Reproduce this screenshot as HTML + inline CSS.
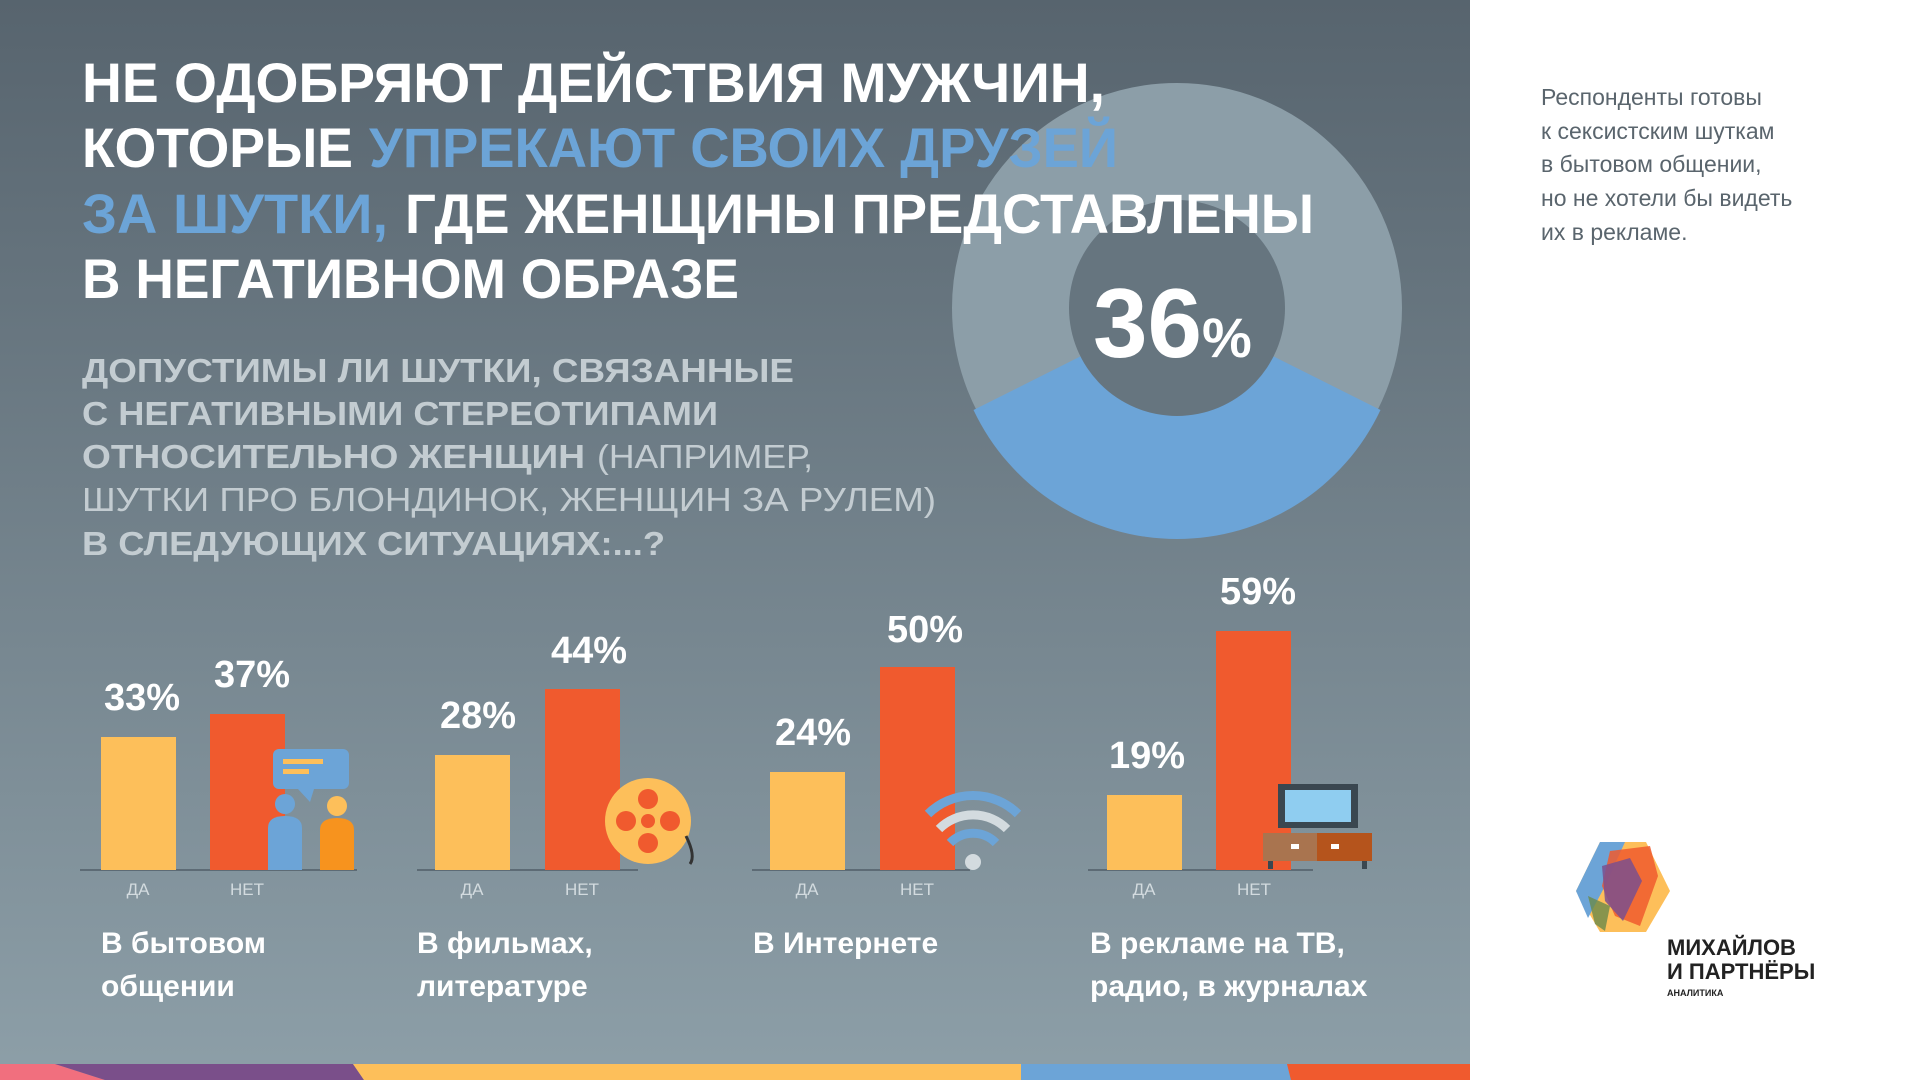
<!DOCTYPE html>
<html><head><meta charset="utf-8"><style>
html,body{margin:0;padding:0;background:#fff;}
svg{display:block;font-family:"Liberation Sans","DejaVu Sans",sans-serif;}
</style></head><body>
<svg width="1921" height="1080" viewBox="0 0 1921 1080" xmlns="http://www.w3.org/2000/svg">
<defs>
<linearGradient id="bg" x1="0" y1="0" x2="0" y2="1">
<stop offset="0" stop-color="#57646e"/><stop offset="1" stop-color="#8d9fa8"/>
</linearGradient>
</defs>
<rect x="0" y="0" width="1470" height="1080" fill="url(#bg)"/>
<rect x="1470" y="0" width="451" height="1080" fill="#fff"/>

<!-- donut -->
<circle cx="1177" cy="308" r="166" fill="none" stroke="#8c9ea8" stroke-width="118"/>
<path d="M1177 308 L973.5 410 A225 225 0 0 0 1380.5 410 Z" fill="#6ca4d7"/>
<circle cx="1177" cy="308" r="108" fill="#66757f"/>
<text x="1093" y="357" fill="#fff" font-size="98" font-weight="bold">36<tspan font-size="56">%</tspan></text>

<!-- title -->
<g font-weight="bold" font-size="56" fill="#fff">
<text x="82" y="102" textLength="1023" lengthAdjust="spacingAndGlyphs">НЕ ОДОБРЯЮТ ДЕЙСТВИЯ МУЖЧИН,</text>
<text x="82" y="167" textLength="271" lengthAdjust="spacingAndGlyphs">КОТОРЫЕ</text>
<text x="369" y="167" fill="#6ca4d7" textLength="749" lengthAdjust="spacingAndGlyphs">УПРЕКАЮТ СВОИХ ДРУЗЕЙ</text>
<text x="82" y="233" fill="#6ca4d7" textLength="306" lengthAdjust="spacingAndGlyphs">ЗА ШУТКИ,</text>
<text x="405" y="233" textLength="909" lengthAdjust="spacingAndGlyphs">ГДЕ ЖЕНЩИНЫ ПРЕДСТАВЛЕНЫ</text>
<text x="82" y="298" textLength="657" lengthAdjust="spacingAndGlyphs">В НЕГАТИВНОМ ОБРАЗЕ</text>
</g>

<!-- subtitle -->
<g font-size="33" fill="#c3ccd1">
<text x="82" y="382" font-weight="bold" textLength="712" lengthAdjust="spacingAndGlyphs">ДОПУСТИМЫ ЛИ ШУТКИ, СВЯЗАННЫЕ</text>
<text x="82" y="425" font-weight="bold" textLength="636" lengthAdjust="spacingAndGlyphs">С НЕГАТИВНЫМИ СТЕРЕОТИПАМИ</text>
<text x="82" y="468" font-weight="bold" textLength="503" lengthAdjust="spacingAndGlyphs">ОТНОСИТЕЛЬНО ЖЕНЩИН</text>
<text x="597" y="468" textLength="216" lengthAdjust="spacingAndGlyphs">(НАПРИМЕР,</text>
<text x="82" y="511" textLength="854" lengthAdjust="spacingAndGlyphs">ШУТКИ ПРО БЛОНДИНОК, ЖЕНЩИН ЗА РУЛЕМ)</text>
<text x="82" y="555" font-weight="bold" textLength="583" lengthAdjust="spacingAndGlyphs">В СЛЕДУЮЩИХ СИТУАЦИЯХ:...?</text>
</g>

<g transform="translate(0,-4)">
<!-- axes -->
<g stroke="#5d6b75" stroke-width="2">
<line x1="80" y1="874" x2="357" y2="874"/>
<line x1="417" y1="874" x2="638" y2="874"/>
<line x1="752" y1="874" x2="970" y2="874"/>
<line x1="1088" y1="874" x2="1313" y2="874"/>
</g>

<!-- bars -->
<g fill="#fdbf5a">
<rect x="101" y="741" width="75" height="133"/>
<rect x="435" y="759" width="75" height="115"/>
<rect x="770" y="776" width="75" height="98"/>
<rect x="1107" y="799" width="75" height="75"/>
</g>
<g fill="#f05a2e">
<rect x="210" y="718" width="75" height="156"/>
<rect x="545" y="693" width="75" height="181"/>
<rect x="880" y="671" width="75" height="203"/>
<rect x="1216" y="635" width="75" height="239"/>
</g>

<!-- values -->
<g fill="#fff" font-weight="bold" font-size="38" text-anchor="middle">
<text x="142" y="714">33%</text><text x="252" y="691">37%</text>
<text x="478" y="732">28%</text><text x="589" y="667">44%</text>
<text x="813" y="749">24%</text><text x="925" y="646">50%</text>
<text x="1147" y="772">19%</text><text x="1258" y="608">59%</text>
</g>

<g fill="#d3dbdf" font-size="17" text-anchor="middle">
<text x="138" y="899">ДА</text><text x="247" y="899">НЕТ</text>
<text x="472" y="899">ДА</text><text x="582" y="899">НЕТ</text>
<text x="807" y="899">ДА</text><text x="917" y="899">НЕТ</text>
<text x="1144" y="899">ДА</text><text x="1254" y="899">НЕТ</text>
</g>

<g fill="#fff" font-weight="bold" font-size="30">
<text x="101" y="957">В бытовом</text><text x="101" y="1000">общении</text>
<text x="417" y="957">В фильмах,</text><text x="417" y="1000">литературе</text>
<text x="753" y="957">В Интернете</text>
<text x="1090" y="957">В рекламе на ТВ,</text><text x="1090" y="1000">радио, в журналах</text>
</g>

<!-- icon: chat people -->
<rect x="273" y="753" width="76" height="40" rx="6" fill="#6ca4d7"/>
<path d="M298 793 L310 806 L314 793 Z" fill="#6ca4d7"/>
<rect x="283" y="763" width="40" height="5" fill="#fdbf5a"/>
<rect x="283" y="773" width="26" height="5" fill="#fdbf5a"/>
<circle cx="285" cy="808" r="10" fill="#6ca4d7"/>
<path d="M268 874 L268 832 Q268 820 285 820 Q302 820 302 832 L302 874 Z" fill="#6ca4d7"/>
<circle cx="337" cy="810" r="10" fill="#fdbf5a"/>
<path d="M320 874 L320 834 Q320 822 337 822 Q354 822 354 834 L354 874 Z" fill="#f7931e"/>

<!-- icon: film reel -->
<circle cx="648" cy="825" r="43" fill="#fdbf5a"/>
<g fill="#f05a2e">
<circle cx="648" cy="825" r="7"/>
<circle cx="648" cy="803" r="10"/><circle cx="648" cy="847" r="10"/>
<circle cx="626" cy="825" r="10"/><circle cx="670" cy="825" r="10"/>
</g>
<path d="M686 840 Q696 860 690 868" stroke="#333" stroke-width="3" fill="none"/>

<!-- icon: wifi -->
<g fill="none" stroke-width="9">
<path d="M928 818 A64 64 0 0 1 1018 818" stroke="#6ca4d7"/>
<path d="M939 833 A48 48 0 0 1 1007 833" stroke="#d3dbdf"/>
<path d="M950 847 A32 32 0 0 1 996 847" stroke="#6ca4d7"/>
</g>
<circle cx="973" cy="866" r="8" fill="#d3dbdf"/>

<!-- icon: tv -->
<rect x="1278" y="788" width="80" height="44" fill="#3a4750"/>
<rect x="1285" y="794" width="66" height="32" fill="#8fcdf0"/>
<rect x="1263" y="837" width="109" height="28" fill="#a9744f"/>
<rect x="1317" y="837" width="55" height="28" fill="#b5541c"/>
<rect x="1291" y="848" width="8" height="5" fill="#fff"/>
<rect x="1331" y="848" width="8" height="5" fill="#fff"/>
<rect x="1268" y="865" width="5" height="8" fill="#3a4750"/>
<rect x="1362" y="865" width="5" height="8" fill="#3a4750"/>
</g>

<!-- right text -->
<g fill="#5a656d" font-size="23">
<text x="1541" y="105">Респонденты готовы</text>
<text x="1541" y="139">к сексистским шуткам</text>
<text x="1541" y="172">в бытовом общении,</text>
<text x="1541" y="206">но не хотели бы видеть</text>
<text x="1541" y="240">их в рекламе.</text>
</g>

<!-- logo -->
<g transform="translate(-10,-4)">
<polygon points="1610,846 1656,846 1680,895 1656,936 1610,936 1586,895" fill="#fdbf5a"/>
<polygon points="1610,846 1635,846 1615,890 1598,922 1586,895" fill="#6ca4d7"/>
<polygon points="1620,855 1660,850 1668,880 1650,930 1625,920 1612,890" fill="#f05a2e" opacity="0.85"/>
<polygon points="1612,870 1640,862 1652,885 1633,925 1615,905" fill="#7b4f8e" opacity="0.85"/>
<polygon points="1598,900 1620,910 1615,935 1605,928" fill="#6a8a4a" opacity="0.8"/>
<g fill="#222" font-weight="bold">
<text x="1677" y="959" font-size="22">МИХАЙЛОВ</text>
<text x="1677" y="983" font-size="22">И ПАРТНЁРЫ</text>
<text x="1677" y="1000" font-size="9">АНАЛИТИКА</text>
</g>
</g>

<!-- bottom stripe -->
<polygon points="0,1064 55,1064 105,1080 0,1080" fill="#f16f7e"/>
<polygon points="55,1064 353,1064 364,1080 105,1080" fill="#7a4f8a"/>
<polygon points="353,1064 1021,1064 1021,1080 364,1080" fill="#fdbf5a"/>
<polygon points="1021,1064 1287,1064 1291,1080 1021,1080" fill="#6ca4d7"/>
<polygon points="1287,1064 1470,1064 1470,1080 1291,1080" fill="#f05a2e"/>
</svg>
</body></html>
